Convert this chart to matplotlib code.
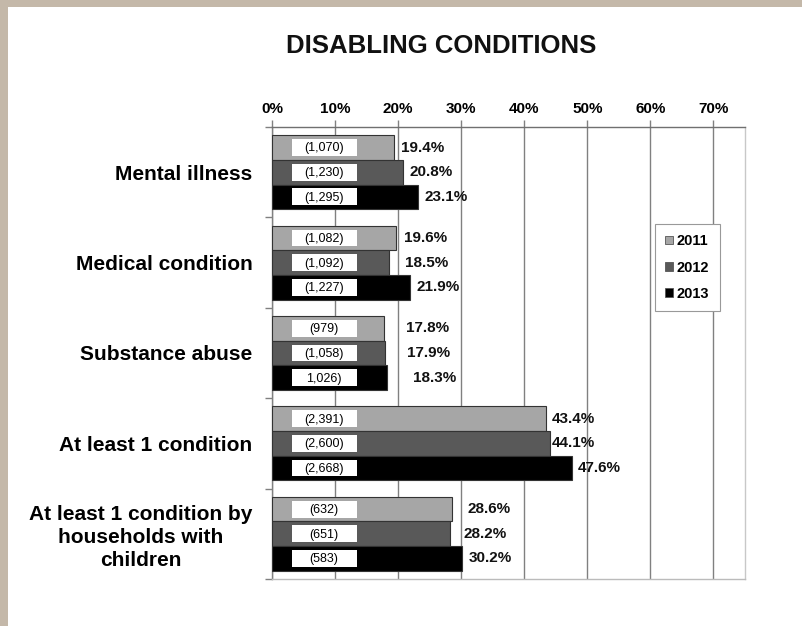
import matplotlib
matplotlib.use('Agg')
import matplotlib.pyplot as plt
from matplotlib.patches import Rectangle
from matplotlib.patches import Patch

categories = ['Mental illness', 'Medical condition', 'Substance abuse',
              'At least 1 condition',
              'At least 1 condition by\nhouseholds with\nchildren']
years = ['2011', '2012', '2013']
pct_2011 = [19.4, 19.6, 17.8, 43.4, 28.6]
pct_2012 = [20.8, 18.5, 17.9, 44.1, 28.2]
pct_2013 = [23.1, 21.9, 18.3, 47.6, 30.2]
counts_2011 = ['(1,070)', '(1,082)', '(979)', '(2,391)', '(632)']
counts_2012 = ['(1,230)', '(1,092)', '(1,058)', '(2,600)', '(651)']
counts_2013 = ['(1,295)', '(1,227)', '1,026)', '(2,668)', '(583)']
x_ticks = [0, 10, 20, 30, 40, 50, 60, 70]

# label gaps after the bar end (px), the slide places them by hand
nudge_2011 = [7, 8, 22, 6, 15]
nudge_2012 = [6, 16, 22, 2, 14]
nudge_2013 = [7, 6, 26, 6, 6]

colors = ['#a6a6a6', '#595959', '#000000']

plt.rcParams['font.family'] = ['Liberation Sans', 'DejaVu Sans']

fig = plt.figure(figsize=(8.02, 6.26), dpi=100)
fig.patch.set_facecolor('white')
# tan slide border, top and left
tan = '#c4b8a9'
fig.patches.append(Rectangle((0, 1 - 7 / 626), 1, 7 / 626, transform=fig.transFigure,
                             facecolor=tan, edgecolor='none', zorder=0))
fig.patches.append(Rectangle((0, 0), 8 / 802, 1, transform=fig.transFigure,
                             facecolor=tan, edgecolor='none', zorder=0))

ax = fig.add_axes([272 / 802, 1 - 579 / 626, (745 - 272) / 802, (579 - 127) / 626])

h = 0.273
series = [pct_2011, pct_2012, pct_2013]
counts = [counts_2011, counts_2012, counts_2013]
nudges = [nudge_2011, nudge_2012, nudge_2013]
for j in range(3):
    ys = [i + (j - 1) * h for i in range(len(categories))]
    ax.barh(ys, series[j], height=h, color=colors[j], edgecolor='#333333',
            linewidth=0.8, zorder=3, label=years[j])
    ax.barh(ys, [10.25] * len(ys), left=3.15, height=h * 0.68, color='white',
            zorder=4)
    for k, y in enumerate(ys):
        ax.text(8.27, y + 0.01, counts[j][k], ha='center', va='center', fontsize=9,
                color='#000000', zorder=5)
        ax.annotate(f'{series[j][k]:.1f}%', (series[j][k], y),
                    xytext=(nudges[j][k] * 0.72, 0), textcoords='offset points',
                    ha='left', va='center', fontsize=11, fontweight='bold',
                    color='#111111', zorder=5)

ax.set_xlim(0, 75)
ax.set_ylim(len(categories) - 0.5, -0.5)

ax.xaxis.tick_top()
ax.set_xticks(x_ticks)
ax.set_xticklabels([f'{v}%' for v in x_ticks], fontsize=11, fontweight='bold')
ax.tick_params(axis='x', direction='out', length=5, width=1, color='#808080', pad=3)
ax.grid(axis='x', color='#808080', linewidth=1, zorder=1)
ax.set_axisbelow(True)

ax.set_yticks([i - 0.5 for i in range(len(categories) + 1)])
ax.set_yticklabels([])
ax.tick_params(axis='y', which='major', direction='out', length=5, width=1,
               color='#808080')
ax.set_yticks(range(len(categories)), minor=True)
ax.set_yticklabels(categories, minor=True, fontsize=15, fontweight='bold',
                   multialignment='center', linespacing=1.25)
ax.tick_params(axis='y', which='minor', length=0, pad=14)

ax.spines['top'].set_color('#707070')
ax.spines['left'].set_color('#808080')
ax.spines['right'].set_color('#c8c8c8')
ax.spines['bottom'].set_color('#bbbbbb')
for s in ax.spines.values():
    s.set_linewidth(1)

handles = [Patch(facecolor=colors[j], edgecolor='#555555', linewidth=0.6)
           for j in range(3)]
leg = fig.legend(handles, years, loc='upper left',
                 bbox_to_anchor=(655 / 802, 1 - 224 / 626),
                 prop={'size': 10.5, 'weight': 'bold'}, fancybox=False,
                 edgecolor='#999999', framealpha=1, handlelength=0.55,
                 handleheight=0.55, handletextpad=0.25, labelspacing=0.85,
                 borderpad=0.7, borderaxespad=0)
leg.get_frame().set_linewidth(0.8)

fig.text(441 / 802, 1 - 46 / 626, 'DISABLING CONDITIONS', ha='center', va='center',
         fontsize=18.5, fontweight='bold', color='#111111')

fig.savefig('out.png', dpi=100)
